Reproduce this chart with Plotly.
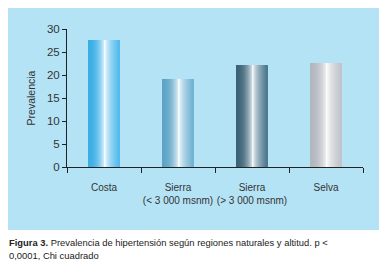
import plotly.graph_objects as go

categories = ["Costa", "Sierra<br>(< 3 000 msnm)", "Sierra<br>(> 3 000 msnm)", "Selva"]
prevalencia = [27.6, 19.1, 22.2, 22.6]
y_ticks = [0, 5, 10, 15, 20, 25, 30]

# gradient styling per bar: left edge colour, right edge colour
edge_left = [(58, 174, 230), (92, 164, 198), (58, 98, 118), (178, 184, 190)]
edge_right = [(80, 186, 236), (110, 178, 210), (74, 118, 142), (190, 196, 202)]
peak_pos = 0.56

N = 32
W = 0.42

def mix(a, b, f):
    return tuple(int(round(a[i] + (b[i] - a[i]) * f)) for i in range(3))

def grad_color(j, t):
    white = (255, 255, 255)
    if t <= peak_pos:
        f = (t / peak_pos) ** 2.2
        c = mix(edge_left[j], white, f)
    else:
        f = ((t - peak_pos) / (1 - peak_pos)) ** 0.6
        c = mix(white, edge_right[j], f)
    return "rgb(%d,%d,%d)" % c

fig = go.Figure()
for k in range(N):
    t = (k + 0.5) / N
    cols = [grad_color(j, t) for j in range(len(categories))]
    fig.add_trace(go.Bar(
        x=categories, y=prevalencia,
        width=W / N * (1.15 if k < N - 1 else 1.0),
        offset=-W / 2 + k * W / N,
        marker=dict(color=cols, line=dict(width=0)),
        hoverinfo="skip", showlegend=False,
    ))

# page has an 8px body margin; compensate so plot lands where the reference has it
OFF = 8
FW, FH = 387 - OFF, 270 - OFF
L, R, T, B = 67 - OFF, 24, 29 - OFF, 103
pw, ph = FW - L - R, FH - T - B

def px(x):  # page x -> paper
    return (x - OFF - L) / pw

def py(y):  # page y -> paper
    return (FH - B - (y - OFF)) / ph

FAM = "Liberation Sans, Arial, sans-serif"

fig.add_shape(type="rect", xref="paper", yref="paper",
              x0=px(0), x1=px(384), y0=py(230), y1=py(0),
              fillcolor="#b5e3f6", line=dict(width=0), layer="below")

cap_font = dict(family=FAM, size=9.4, color="#222")
fig.add_annotation(xref="paper", yref="paper", x=px(7), y=py(242),
                   xanchor="left", yanchor="middle", showarrow=False,
                   text="<b>Figura 3.</b> Prevalencia de hipertensión según regiones naturales y altitud. p <",
                   font=cap_font)
fig.add_annotation(xref="paper", yref="paper", x=px(7), y=py(255),
                   xanchor="left", yanchor="middle", showarrow=False,
                   text="0,0001, Chi cuadrado",
                   font=cap_font)

font = dict(family=FAM, size=11.5, color="#333")

fig.update_layout(
    width=FW, height=FH,
    margin=dict(l=L, r=R, t=T, b=B, pad=0),
    paper_bgcolor="white", plot_bgcolor="rgba(0,0,0,0)",
    barmode="overlay", bargap=0,
    font=font,
    xaxis=dict(type="category", showline=True, linecolor="#222", linewidth=1,
               ticks="outside", tickson="boundaries", ticklen=5, tickcolor="#222",
               showgrid=False, zeroline=False, tickfont=dict(family=FAM, size=10, color="#333"),
               tickangle=0, ticklabelstandoff=11, fixedrange=True),
    yaxis=dict(range=[0, 30], tickvals=y_ticks, showline=True, linecolor="#222",
               linewidth=1, ticks="outside", ticklen=4, tickcolor="#222",
               showgrid=False, zeroline=False, tickfont=font,
               title=dict(text="Prevalencia", font=dict(family=FAM, size=10.5, color="#333"), standoff=9),
               fixedrange=True),
)

fig.write_html("out.html")
